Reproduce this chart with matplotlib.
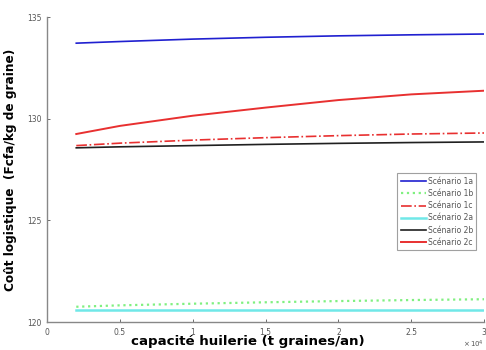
import matplotlib.pyplot as plt
import numpy as np

# capacité huilerie (t graines/an)
capacite = [2000, 5000, 10000, 15000, 20000, 25000, 30000]

# coût logistique par scénario (Fcfa/kg de graine)
scen_1a = [133.72, 133.80, 133.92, 134.01, 134.08, 134.13, 134.17]
scen_1b = [120.75, 120.82, 120.90, 120.97, 121.03, 121.08, 121.12]
scen_1c = [128.68, 128.80, 128.95, 129.07, 129.17, 129.25, 129.30]
scen_2a = [120.60, 120.60, 120.60, 120.60, 120.60, 120.60, 120.60]
scen_2b = [128.57, 128.62, 128.68, 128.74, 128.79, 128.83, 128.86]
scen_2c = [129.25, 129.65, 130.15, 130.55, 130.92, 131.20, 131.38]

fig = plt.figure(figsize=(4.86, 3.5), dpi=100)
ax = fig.add_axes([0.097, 0.08, 0.899, 0.871])

ax.plot(capacite, scen_1a, color='#2020d0', lw=1.2, label='Scénario 1a')
ax.plot(capacite, scen_1b, color='#80f080', lw=1.6, ls=':', label='Scénario 1b')
ax.plot(capacite, scen_1c, color='#e83030', lw=1.2, ls='-.', label='Scénario 1c')
ax.plot(capacite, scen_2a, color='#70e8e8', lw=1.8, label='Scénario 2a')
ax.plot(capacite, scen_2b, color='#202020', lw=1.2, label='Scénario 2b')
ax.plot(capacite, scen_2c, color='#e83030', lw=1.4, label='Scénario 2c')

ax.set_xlim(0, 30000)
ax.set_ylim(120, 135)
ax.set_xticks(np.arange(0, 30001, 5000))
ax.set_xticklabels(['0', '0.5', '1', '1.5', '2', '2.5', '3'])
ax.set_yticks([120, 125, 130, 135])
ax.tick_params(labelsize=5.5, colors='#555555', length=2, width=0.6, direction='in', pad=4)
for side in ['top', 'right']:
    ax.spines[side].set_visible(False)
for side in ['left', 'bottom']:
    ax.spines[side].set_color('#888888')
    ax.spines[side].set_linewidth(1.0)

ax.text(1.0, -0.072, r'$\times\,10^4$', transform=ax.transAxes, fontsize=5,
        color='#555555', ha='right', va='center')
ax.set_xlabel('capacité huilerie (t graines/an)', fontsize=9.6, fontweight='bold')
ax.xaxis.set_label_coords(0.46, -0.043)
ax.set_ylabel('Coût logistique  (Fcfa/kg de graine)', fontsize=8.7, fontweight='bold', labelpad=7)

leg = ax.legend(loc='upper left', bbox_to_anchor=(0.793, 0.50), fontsize=5.5,
                frameon=True, fancybox=False, handlelength=3.3, handletextpad=0.2,
                labelspacing=0.42, borderpad=0.45, labelcolor='#555555')
leg.get_frame().set_edgecolor('#888888')
leg.get_frame().set_linewidth(0.8)

fig.savefig('out.png', dpi=100)
